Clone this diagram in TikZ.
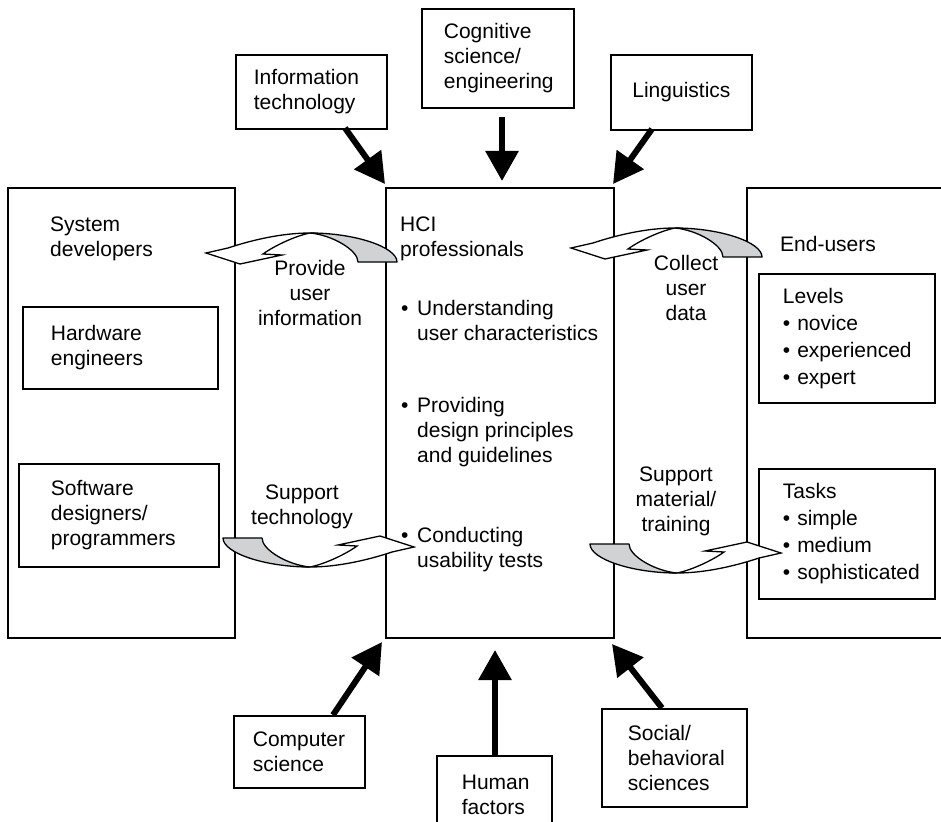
\documentclass[tikz,border=0pt]{standalone}
\usepackage{fontspec}
\setmainfont{Liberation Sans}
\usetikzlibrary{arrows.meta}
\definecolor{ribgray}{RGB}{208,210,212}
\tikzset{
  bx/.style={draw, line width=1.8pt, anchor=north west, align=left, inner ysep=0pt, font=\fontsize{21}{25}\selectfont},
  bigbox/.style={draw, line width=1.8pt, anchor=north west, inner sep=0pt},
  txt/.style={inner sep=0pt, font=\fontsize{21}{25}\selectfont},
  bigarrow/.style={line width=6pt, -{Triangle[length=30pt,width=32pt]}},
  ribbon/.pic={
    \filldraw[fill=ribgray, line width=1.3pt, line join=round] (-87,-29) .. controls (-87,-14) and (-45,0) .. (0,0) .. controls (-22,-2) and (-48,-17) .. (-48,-29) -- cycle;
    \filldraw[fill=white, line width=1.3pt, line join=miter] (0,0) .. controls (15,-3) and (36,-13) .. (47,-21) -- (28,-22) -- (70,-31) -- (104,-20) -- (82,-15) .. controls (58,-7) and (28,0) .. (0,0) -- cycle;
  }
}
\begin{document}
\begin{tikzpicture}[x=1pt,y=-1pt]
\useasboundingbox (0,0) rectangle (941,821);
\clip (0,0) rectangle (941,821);
% big boxes
\node[bigbox, minimum width=227pt, minimum height=450pt] (sysdev) at (7,187) {};
\node[bigbox, minimum width=228pt, minimum height=450pt] (hci) at (385,187) {};
\node[bigbox, minimum width=260pt, minimum height=450pt] (endusers) at (746,187) {};
% discipline boxes
\node[bx, inner xsep=18pt, text width=115pt, minimum width=151pt, minimum height=74pt] (info) at (235,54) {Information\\technology};
\node[bx, inner xsep=22pt, text width=108pt, minimum width=152pt, minimum height=99pt] (cog) at (421,8) {Cognitive\\science/\\engineering};
\node[bx, align=center, inner xsep=10pt, text width=121pt, minimum width=141pt, minimum height=75pt] (ling) at (610,54) {Linguistics};
\node[bx, inner xsep=19pt, text width=93pt, minimum width=131pt, minimum height=72pt] (cs) at (233,715) {Computer\\science};
\node[bx, inner xsep=25pt, text width=65pt, minimum width=115pt, minimum height=78pt] (hf) at (436,755) {Human\\factors};
\node[bx, inner xsep=26pt, text width=93pt, minimum width=145pt, minimum height=98pt] (social) at (601,708) {Social/\\behavioral\\sciences};
% inner boxes
\node[bx, inner xsep=28pt, text width=139pt, minimum width=195pt, minimum height=82pt] (hw) at (22,306) {Hardware\\engineers};
\node[bx, inner xsep=32pt, text width=136pt, minimum width=200pt, minimum height=103pt] (sw) at (18,463) {Software\\designers/\\programmers};
\node[bx, font=\fontsize{21}{27}\selectfont, inner xsep=24pt, text width=128pt, minimum width=176pt, minimum height=129pt] (levels) at (758,273) {Levels\\• novice\\\mbox{• experienced}\\• expert};
\node[bx, font=\fontsize{21}{27}\selectfont, inner xsep=24pt, text width=128pt, minimum width=176pt, minimum height=130pt] (tasks) at (758,468) {Tasks\\• simple\\• medium\\\mbox{• sophisticated}};
% big arrows
\coordinate (infoS) at (345,128);   \coordinate (hciNW) at (385,184);
\coordinate (cogS) at (502,117);    \coordinate (hciN) at (502,181);
\coordinate (lingS) at (652,129);   \coordinate (hciNE) at (613,184);
\coordinate (csN) at (333,715);     \coordinate (hciSW) at (382,642);
\coordinate (hfN) at (495,755);     \coordinate (hciS) at (495,650);
\coordinate (socN) at (662,708);    \coordinate (hciSE) at (612,644);
\draw[bigarrow] (infoS) -- (hciNW);
\draw[bigarrow] (cogS) -- (hciN);
\draw[bigarrow] (lingS) -- (hciNE);
\draw[bigarrow] (csN) -- (hciSW);
\draw[bigarrow] (hfN) -- (hciS);
\draw[bigarrow] (socN) -- (hciSE);
% curved ribbon arrows
\pic[rotate=180] (provide) at (310,233) {ribbon};
\pic[rotate=180] (collect) at (675,228) {ribbon};
\pic (suptech) at (310,567) {ribbon};
\pic (supmat) at (677,573) {ribbon};
% texts
\node[txt, anchor=north west, align=left] (sysdevtxt) at (50,213.5) {\strut System\\developers};
\node[txt, anchor=north west, align=left] (hcitxt) at (400,213.5) {\strut HCI\\professionals};
\node[txt, anchor=north west, align=left] (endtxt) at (780,233.5) {\strut End-users};
\node[txt, anchor=north, align=center] (providetxt) at (310,257.5) {\strut Provide\\user\\information};
\node[txt, anchor=north, align=center] (collecttxt) at (686,252.5) {\strut Collect\\user\\data};
\node[txt, anchor=north, align=center] (suptechtxt) at (302,481.5) {\strut Support\\technology};
\node[txt, anchor=north, align=center] (supmattxt) at (676,463.5) {\strut Support\\material/\\training};
\node[txt, anchor=north west, align=left] (item1) at (401,297.5) {\strut\makebox[16pt][l]{•}Understanding\\\hspace*{16pt}user characteristics};
\node[txt, anchor=north west, align=left] (item2) at (401,394.5) {\strut\makebox[16pt][l]{•}Providing\\\hspace*{16pt}design principles\\\hspace*{16pt}and guidelines};
\node[txt, anchor=north west, align=left] (item3) at (401,524.5) {\strut\makebox[16pt][l]{•}Conducting\\\hspace*{16pt}usability tests};
\end{tikzpicture}
\end{document}
